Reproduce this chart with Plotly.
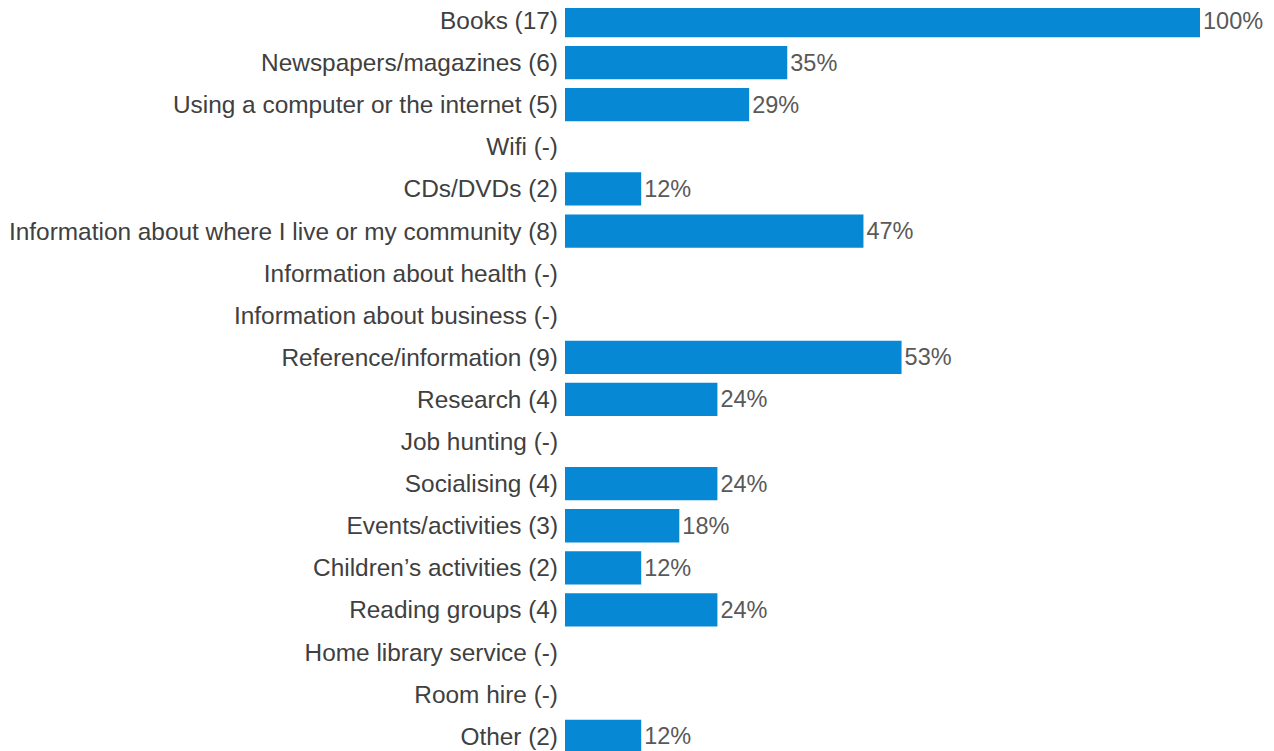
import plotly.graph_objects as go

# Data
categories = [
    "Books (17)",
    "Newspapers/magazines (6)",
    "Using a computer or the internet (5)",
    "Wifi (-)",
    "CDs/DVDs (2)",
    "Information about where I live or my community (8)",
    "Information about health (-)",
    "Information about business (-)",
    "Reference/information (9)",
    "Research (4)",
    "Job hunting (-)",
    "Socialising (4)",
    "Events/activities (3)",
    "Children\u2019s activities (2)",
    "Reading groups (4)",
    "Home library service (-)",
    "Room hire (-)",
    "Other (2)",
]
percentages = [100, 35, 29, None, 12, 47, None, None, 53, 24, None, 24, 18, 12, 24, None, None, 12]

labels = [f"{v}%" if v is not None else "" for v in percentages]
values = [v if v is not None else 0 for v in percentages]

fig = go.Figure(
    go.Bar(
        y=categories,
        x=values,
        orientation="h",
        marker=dict(color="#0788D4", line=dict(width=0)),
        text=labels,
        textposition="outside",
        cliponaxis=False,
        textfont=dict(family="Liberation Sans, Arial, sans-serif", size=23.5, color="#595959"),
        hoverinfo="skip",
    )
)

# page body has an 8px margin, so the margins below are shifted to compensate
fig.update_layout(
    width=1274,
    height=751,
    margin=dict(l=557, r=82, t=0, b=0, autoexpand=False),
    paper_bgcolor="white",
    plot_bgcolor="white",
    bargap=0.21,
    showlegend=False,
    font=dict(family="Liberation Sans, Arial, sans-serif", size=24.4, color="#404040"),
    xaxis=dict(range=[0, 100], visible=False, fixedrange=True, automargin=False),
    yaxis=dict(
        categoryorder="array",
        categoryarray=categories,
        range=[17.54, -0.297],
        automargin=False,
        showgrid=False,
        zeroline=False,
        showline=False,
        ticks="",
        ticklabelstandoff=6,
        tickfont=dict(size=24.4, color="#404040"),
    ),
)

fig.write_html("out.html")
